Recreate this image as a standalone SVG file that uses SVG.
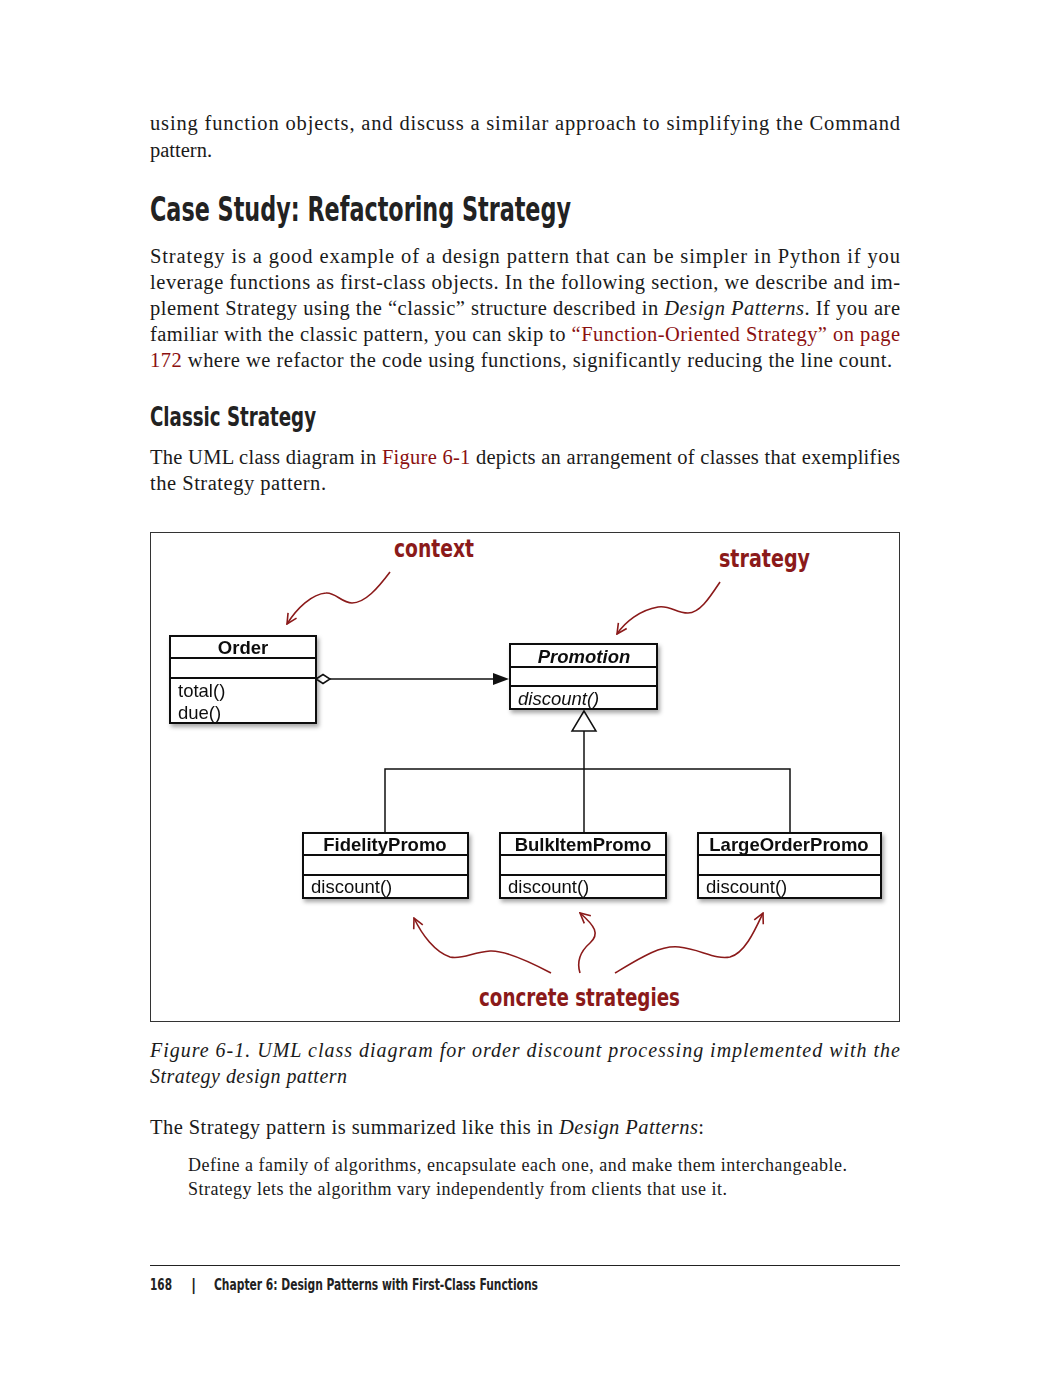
<svg xmlns="http://www.w3.org/2000/svg" width="1050" height="1378" viewBox="0 0 1050 1378">
<style>
.body{font-family:"Liberation Serif",serif;font-size:20.5px;fill:#1a1a1a}
.quote{font-family:"Liberation Serif",serif;font-size:18px;fill:#1a1a1a}
.cap{font-family:"Liberation Serif",serif;font-size:20px;font-style:italic;fill:#1a1a1a}
.link{fill:#8b1010}
.it{font-style:italic}
.h1{font-family:"Liberation Sans Narrow","DejaVu Sans Condensed","Liberation Sans",sans-serif;font-weight:bold;font-size:33px;fill:#222}
.h2{font-family:"Liberation Sans Narrow","DejaVu Sans Condensed","Liberation Sans",sans-serif;font-weight:bold;font-size:27px;fill:#222}
.foot{font-family:"Liberation Sans Narrow","DejaVu Sans Condensed","Liberation Sans",sans-serif;font-weight:bold;font-size:16px;fill:#222}
.box{fill:#fff;stroke:#111;stroke-width:2}
.div{stroke:#111;stroke-width:2}
.cls{font-family:"Liberation Sans",Arial,sans-serif;font-weight:bold;font-size:18.5px;fill:#111}
.mth{font-family:"Liberation Sans",Arial,sans-serif;font-size:18.5px;fill:#111}
.ann{font-family:"DejaVu Sans Condensed","DejaVu Sans",sans-serif;font-weight:bold;font-size:24px;fill:#8b1a1a}
.uml{stroke:#111;stroke-width:1.5;fill:none}
.red{stroke:#8b1a1a;stroke-width:1.6;fill:none;marker-end:url(#openArrow)}
</style>
<defs>
<filter id="shadow" x="-10%" y="-10%" width="130%" height="140%">
<feDropShadow dx="2" dy="3" stdDeviation="2" flood-color="#000" flood-opacity="0.35"/>
</filter>
<marker id="openArrow" viewBox="0 0 12 12" refX="11" refY="6" markerWidth="12" markerHeight="12" markerUnits="userSpaceOnUse" orient="auto">
<path d="M1,1 L11,6 L1,11" fill="none" stroke="#8b1a1a" stroke-width="1.6"/>
</marker>
</defs>
<rect width="1050" height="1378" fill="#fff"/>

<!-- page text -->
<text class="body" x="150" y="130" textLength="750">using function objects, and discuss a similar approach to simplifying the Command</text>
<text class="body" x="150" y="157">pattern.</text>
<text class="h1" x="150" y="221" textLength="421" lengthAdjust="spacingAndGlyphs">Case Study: Refactoring Strategy</text>
<text class="body" x="150" y="263" textLength="750">Strategy is a good example of a design pattern that can be simpler in Python if you</text>
<text class="body" x="150" y="289" textLength="750">leverage functions as first-class objects. In the following section, we describe and im-</text>
<text class="body" x="150" y="315" textLength="750">plement Strategy using the “classic” structure described in <tspan class="it">Design Patterns</tspan>. If you are</text>
<text class="body" x="150" y="341" textLength="750">familiar with the classic pattern, you can skip to <tspan class="link">“Function-Oriented Strategy” on page</tspan></text>
<text class="body" x="150" y="367" textLength="742"><tspan class="link">172</tspan> where we refactor the code using functions, significantly reducing the line count.</text>
<text class="h2" x="150" y="426" textLength="166" lengthAdjust="spacingAndGlyphs">Classic Strategy</text>
<text class="body" x="150" y="464" textLength="750">The UML class diagram in <tspan class="link">Figure 6-1</tspan> depicts an arrangement of classes that exemplifies</text>
<text class="body" x="150" y="490" textLength="176">the Strategy pattern.</text>

<!-- figure frame -->
<rect x="150.5" y="532.5" width="749" height="489" fill="none" stroke="#333" stroke-width="1"/>

<!-- connectors -->
<g id="connectors">
<line class="uml" x1="330" y1="679" x2="496" y2="679"/>
<polygon points="316,679 323,674.5 330,679 323,683.5" fill="#fff" stroke="#111" stroke-width="1.5"/>
<polygon points="509,679 493,673 493,685" fill="#111"/>
<line class="uml" x1="584" y1="731" x2="584" y2="833"/>
<polyline class="uml" points="385,833 385,769 790,769 790,833"/>
<polygon points="584,711 572,731 596,731" fill="#fff" stroke="#111" stroke-width="1.5"/>
<path class="red" d="M390,572 C378,588 365,603 352,603 C342,603 335,592 326,593 C312,594 297,608 287,624"/>
<path class="red" d="M720,582 C710,597 700,613 688,613 C676,613 670,605 658,607 C640,610 625,622 617,634"/>
<path class="red" d="M551,973 C530,962 505,950 490,951 C473,952 462,960 450,957 C435,952 422,935 414,918"/>
<path class="red" d="M580,973 C576,960 582,950 590,943 C600,934 595,926 580,913"/>
<path class="red" d="M615,973 C640,958 660,945 679,947 C700,949 715,960 730,957 C745,953 755,930 763,913"/>
</g>

<!-- annotations -->
<g id="ann-context"><text class="ann" x="394" y="557" textLength="80" lengthAdjust="spacingAndGlyphs">context</text></g>
<g id="ann-strategy"><text class="ann" x="719" y="567" textLength="91" lengthAdjust="spacingAndGlyphs">strategy</text></g>
<g id="ann-concrete"><text class="ann" x="479" y="1006" textLength="201" lengthAdjust="spacingAndGlyphs">concrete strategies</text></g>

<!-- UML nodes -->
<g id="Order" filter="url(#shadow)">
<rect class="box" x="170" y="636" width="146" height="87"/>
<line class="div" x1="170" y1="658" x2="316" y2="658"/>
<line class="div" x1="170" y1="678" x2="316" y2="678"/>
<text class="cls" x="243" y="654" text-anchor="middle">Order</text>
<text class="mth" x="178" y="697">total()</text>
<text class="mth" x="178" y="719">due()</text>
</g>
<g id="Promotion" filter="url(#shadow)">
<rect class="box" x="510" y="644" width="147" height="65"/>
<line class="div" x1="510" y1="667" x2="657" y2="667"/>
<line class="div" x1="510" y1="686" x2="657" y2="686"/>
<text class="cls" x="584" y="663" text-anchor="middle" font-style="italic">Promotion</text>
<text class="mth" x="518" y="705" font-style="italic">discount()</text>
</g>
<g id="FidelityPromo" filter="url(#shadow)">
<rect class="box" x="303" y="833" width="165" height="65"/>
<line class="div" x1="303" y1="855" x2="468" y2="855"/>
<line class="div" x1="303" y1="875" x2="468" y2="875"/>
<text class="cls" x="385" y="851" text-anchor="middle">FidelityPromo</text>
<text class="mth" x="311" y="893">discount()</text>
</g>
<g id="BulkItemPromo" filter="url(#shadow)">
<rect class="box" x="500" y="833" width="166" height="65"/>
<line class="div" x1="500" y1="855" x2="666" y2="855"/>
<line class="div" x1="500" y1="875" x2="666" y2="875"/>
<text class="cls" x="583" y="851" text-anchor="middle">BulkItemPromo</text>
<text class="mth" x="508" y="893">discount()</text>
</g>
<g id="LargeOrderPromo" filter="url(#shadow)">
<rect class="box" x="698" y="833" width="183" height="65"/>
<line class="div" x1="698" y1="855" x2="881" y2="855"/>
<line class="div" x1="698" y1="875" x2="881" y2="875"/>
<text class="cls" x="789" y="851" text-anchor="middle">LargeOrderPromo</text>
<text class="mth" x="706" y="893">discount()</text>
</g>

<!-- caption and following text -->
<text class="cap" x="150" y="1057" textLength="750">Figure 6-1. UML class diagram for order discount processing implemented with the</text>
<text class="cap" x="150" y="1083" textLength="197">Strategy design pattern</text>
<text class="body" x="150" y="1134" textLength="554">The Strategy pattern is summarized like this in <tspan class="it">Design Patterns</tspan>:</text>
<text class="quote" x="188" y="1171" textLength="659">Define a family of algorithms, encapsulate each one, and make them interchangeable.</text>
<text class="quote" x="188" y="1195" textLength="539">Strategy lets the algorithm vary independently from clients that use it.</text>

<!-- footer -->
<line x1="150" y1="1265.5" x2="900" y2="1265.5" stroke="#222" stroke-width="1"/>
<text class="foot" x="150" y="1290" textLength="22" lengthAdjust="spacingAndGlyphs">168</text>
<text class="foot" x="191" y="1290">|</text>
<text class="foot" x="214" y="1290" textLength="324" lengthAdjust="spacingAndGlyphs">Chapter 6: Design Patterns with First-Class Functions</text>
</svg>
